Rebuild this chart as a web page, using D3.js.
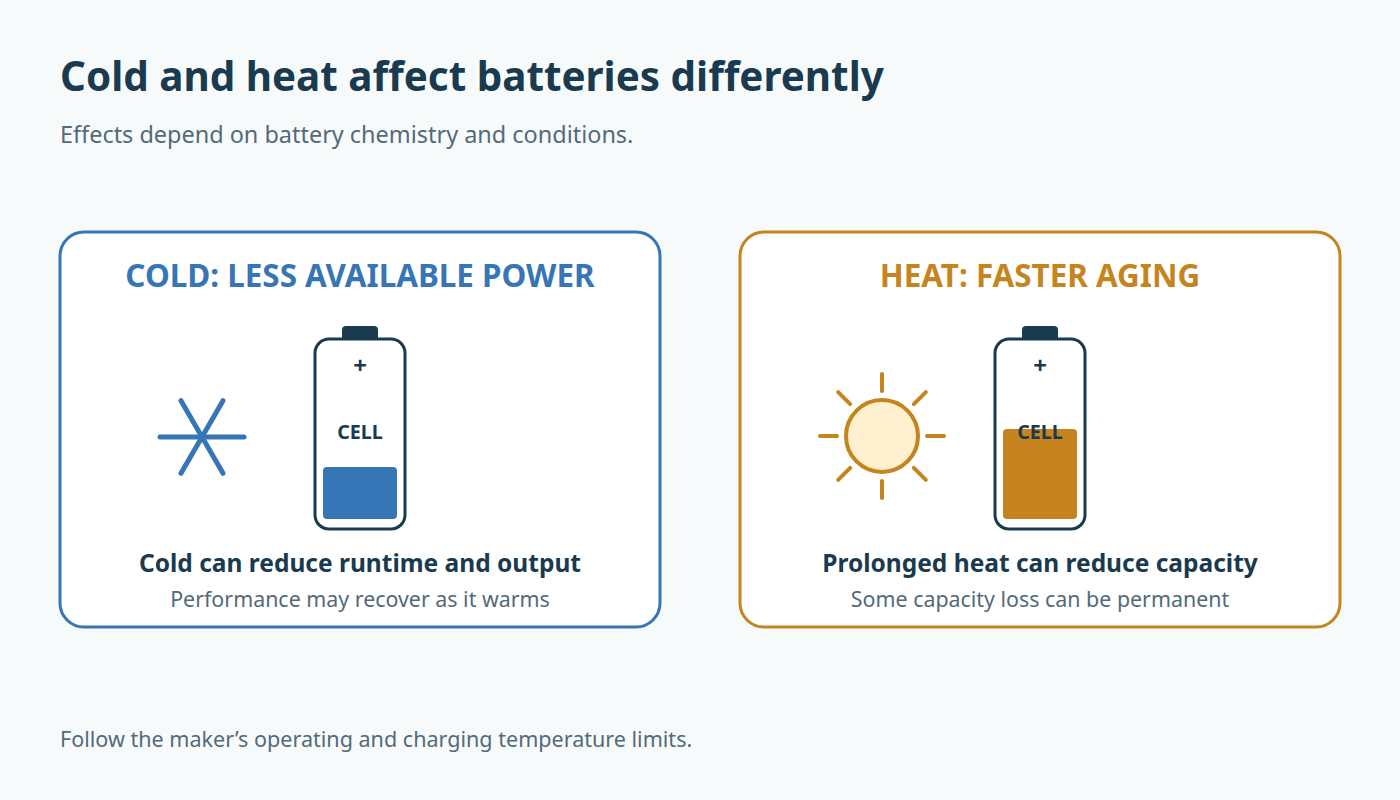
<!DOCTYPE html>
<html>
<head>
<meta charset="utf-8">
<script src="https://cdn.jsdelivr.net/npm/d3@7"></script>
<style>
  html, body { margin: 0; padding: 0; background: #f7fafb; }
  svg { display: block; }
  text { font-family: "Noto Sans", sans-serif; }
</style>
</head>
<body>
<div id="chart-area"></div>
<script>
const width = 1400, height = 800;

const titleText = "Cold and heat affect batteries differently";
const subtitleText = "Effects depend on battery chemistry and conditions.";
const footerText = "Follow the maker’s operating and charging temperature limits.";

const panelKeys = ["cold", "heat"];
const panelHeads = ["COLD: LESS AVAILABLE POWER", "HEAT: FASTER AGING"];
const panelLeads = ["Cold can reduce runtime and output", "Prolonged heat can reduce capacity"];
const panelNotes = ["Performance may recover as it warms", "Some capacity loss can be permanent"];
const panelColors = ["#3776b6", "#c5841d"];
const chargeLevels = [30, 52]; // percent of the cell's inside that is filled

const ink = "#1a3a4f", grey = "#536a79";

const svg = d3.select("#chart-area").append("svg")
  .attr("width", width)
  .attr("height", height)
  .attr("viewBox", [0, 0, width, height]);

svg.append("rect").attr("width", width).attr("height", height).attr("fill", "#f7fafb");

//--------------------------- HEADINGS
svg.append("text").attr("x", 60).attr("y", 91)
  .attr("font-size", 40.4).attr("font-weight", 700).attr("fill", ink)
  .text(titleText);
svg.append("text").attr("x", 60).attr("y", 142.5)
  .attr("font-size", 23.45).attr("fill", grey)
  .text(subtitleText);
svg.append("text").attr("x", 60).attr("y", 747)
  .attr("font-size", 21.55).attr("fill", grey)
  .text(footerText);

//--------------------------- PANELS
const panelX = d3.scalePoint().domain(panelKeys).range([60, 740]);
const level = d3.scaleLinear().domain([0, 100]).range([0, 173]);

panelKeys.forEach((key, i) => {
  const color = panelColors[i];
  const g = svg.append("g").attr("transform", `translate(${panelX(key)}, 232)`);

  g.append("rect")
    .attr("width", 600).attr("height", 395).attr("rx", 24)
    .attr("fill", "#fff").attr("stroke", color).attr("stroke-width", 3);

  g.append("text").attr("x", 300).attr("y", 55).attr("text-anchor", "middle")
    .attr("font-size", 31.4).attr("font-weight", 700).attr("fill", color)
    .text(panelHeads[i]);

  // battery
  g.append("rect").attr("x", 282).attr("y", 94).attr("width", 36).attr("height", 16)
    .attr("rx", 4).attr("fill", ink);
  g.append("rect").attr("x", 255).attr("y", 107).attr("width", 90).attr("height", 190)
    .attr("rx", 14).attr("fill", "#fff").attr("stroke", ink).attr("stroke-width", 3);

  const h = level(chargeLevels[i]);
  g.append("rect").attr("x", 263).attr("y", 287 - h).attr("width", 74).attr("height", h)
    .attr("rx", 4).attr("fill", color);

  g.append("text").attr("x", 300).attr("y", 142).attr("text-anchor", "middle")
    .attr("font-size", 24).attr("font-weight", 700).attr("fill", ink).text("+");
  g.append("text").attr("x", 300).attr("y", 207).attr("text-anchor", "middle")
    .attr("font-size", 19.7).attr("font-weight", 700).attr("fill", ink).text("CELL");

  g.append("text").attr("x", 300).attr("y", 340).attr("text-anchor", "middle")
    .attr("font-size", 24.5).attr("font-weight", 700).attr("fill", ink)
    .text(panelLeads[i]);
  g.append("text").attr("x", 300).attr("y", 375).attr("text-anchor", "middle")
    .attr("font-size", 21.4).attr("fill", grey)
    .text(panelNotes[i]);

  if (key === "cold") {
    // snowflake: three strokes through the centre
    const flake = g.append("g").attr("transform", "translate(142, 205)");
    d3.range(3).forEach(k => {
      const a = k * Math.PI / 3, r = 42;
      flake.append("line")
        .attr("x1", -r * Math.cos(a)).attr("y1", -r * Math.sin(a))
        .attr("x2", r * Math.cos(a)).attr("y2", r * Math.sin(a))
        .attr("stroke", color).attr("stroke-width", 5).attr("stroke-linecap", "round");
    });
  } else {
    // sun: disc with eight rays
    const sun = g.append("g").attr("transform", "translate(142, 204)");
    d3.range(8).forEach(k => {
      const a = k * Math.PI / 4;
      sun.append("line")
        .attr("x1", 45 * Math.cos(a)).attr("y1", 45 * Math.sin(a))
        .attr("x2", 62 * Math.cos(a)).attr("y2", 62 * Math.sin(a))
        .attr("stroke", color).attr("stroke-width", 4).attr("stroke-linecap", "round");
    });
    sun.append("circle").attr("r", 36)
      .attr("fill", "#fff0cf").attr("stroke", color).attr("stroke-width", 4);
  }
});
</script>
</body>
</html>
